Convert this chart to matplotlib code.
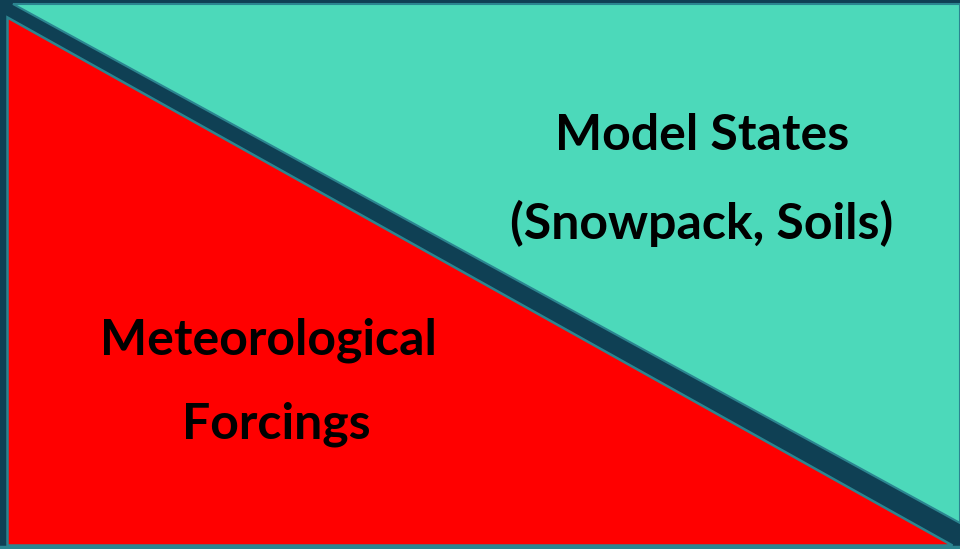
import matplotlib
matplotlib.use("Agg")
import matplotlib.pyplot as plt
from matplotlib.patches import Polygon

W, H = 960, 549

# Diagram content
labels = ["Model States", "(Snowpack, Soils)", "Meteorological", "Forcings"]
label_xy = [(702, 136), (702, 223), (268, 340), (276, 424)]

upper_triangle = [(13, 4), (960, 4), (960, 523)]
lower_triangle = [(7, 17), (7, 545), (952, 545)]

navy = "#0f4054"
teal = "#4cd9ba"
red = "#ff0000"
edge = "#2b8590"

fig = plt.figure(figsize=(W / 100, H / 100), dpi=100)
fig.patch.set_facecolor(navy)
ax = fig.add_axes([0, 0, 1, 1])
ax.set_xlim(0, W)
ax.set_ylim(H, 0)
ax.axis("off")
ax.set_facecolor(navy)

ax.add_patch(Polygon(upper_triangle, closed=True, facecolor=teal, edgecolor=edge, linewidth=1.5))
ax.add_patch(Polygon(lower_triangle, closed=True, facecolor=red, edgecolor=edge, linewidth=1.8))
ax.plot([0, W], [547, 547], color=edge, linewidth=2.5)

for txt, (x, y) in zip(labels, label_xy):
    ax.text(x, y, txt, ha="center", va="center", fontsize=36, fontweight="bold",
            family=["Lato", "DejaVu Sans"], color="black")

fig.savefig("out.png", dpi=100, facecolor=navy)
